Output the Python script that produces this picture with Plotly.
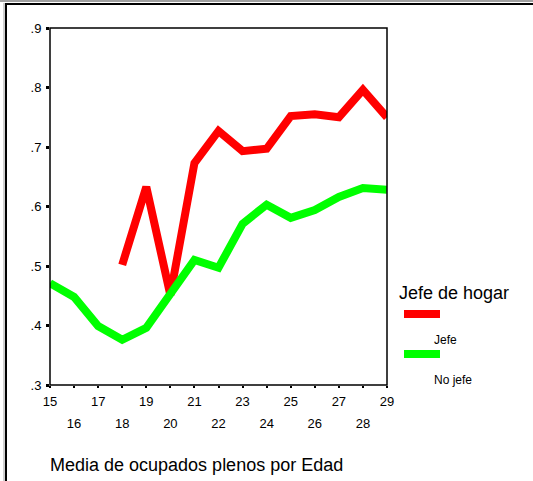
import plotly.graph_objects as go

ages = list(range(15, 30))
jefe_ages = list(range(18, 30))
jefe_vals = [0.502, 0.633, 0.451, 0.673, 0.727, 0.693, 0.697, 0.752, 0.755, 0.750, 0.796, 0.750]
nojefe_vals = [0.471, 0.448, 0.399, 0.376, 0.396, 0.451, 0.510, 0.497, 0.571, 0.603, 0.581, 0.594, 0.616, 0.631, 0.628]
y_ticks = [0.3, 0.4, 0.5, 0.6, 0.7, 0.8, 0.9]
y_labels = [".3", ".4", ".5", ".6", ".7", ".8", ".9"]
odd_ages = [a for a in ages if a % 2 == 1]
even_ages = [a for a in ages if a % 2 == 0]

L, R, T, B = 50, 387, 28, 385
W, H = 533, 481
pw, ph = R - L, B - T

def px(x):
    return (x - L) / pw

def py(y):
    return (B - y) / ph

font = "Liberation Sans, Arial, sans-serif"

fig = go.Figure()
fig.add_trace(go.Scatter(x=ages, y=nojefe_vals, mode="lines", xaxis="x2",
                         line=dict(color="#00ff00", width=8), showlegend=False, hoverinfo="skip"))
fig.add_trace(go.Scatter(x=jefe_ages, y=jefe_vals, mode="lines",
                         line=dict(color="#ff0000", width=8), showlegend=False, hoverinfo="skip"))

def pline(x0, y0, x1, y1, color, width):
    return dict(type="line", xref="paper", yref="paper", x0=px(x0), y0=py(y0), x1=px(x1), y1=py(y1),
                line=dict(color=color, width=width))

shapes = [
    pline(0, 1, 540, 1, "#a0a0a0", 2),
    pline(4, 3, 4, 490, "#a0a0a0", 1),
    pline(5, 4, 540, 4, "black", 2),
    pline(6, 4, 6, 490, "black", 2),
    dict(type="rect", xref="paper", yref="paper", x0=0, x1=1, y0=0, y1=1,
         line=dict(color="black", width=1.5)),
    dict(type="rect", xref="paper", yref="paper", x0=px(404), x1=px(440), y0=py(318), y1=py(310),
         fillcolor="#ff0000", line=dict(width=0)),
    dict(type="rect", xref="paper", yref="paper", x0=px(404), x1=px(440), y0=py(358), y1=py(350),
         fillcolor="#00ff00", line=dict(width=0)),
]

annotations = [
    dict(text="Jefe de hogar", xref="paper", yref="paper", x=px(397), y=py(293),
         xanchor="left", yanchor="middle", showarrow=False, font=dict(family=font, size=18, color="black")),
    dict(text="Jefe", xref="paper", yref="paper", x=px(432), y=py(340),
         xanchor="left", yanchor="middle", showarrow=False, font=dict(family=font, size=12, color="black")),
    dict(text="No jefe", xref="paper", yref="paper", x=px(432), y=py(380),
         xanchor="left", yanchor="middle", showarrow=False, font=dict(family=font, size=12, color="black")),
    dict(text="Media de ocupados plenos por Edad", xref="paper", yref="paper", x=px(48), y=py(465),
         xanchor="left", yanchor="middle", showarrow=False, font=dict(family=font, size=18, color="black")),
]

axis_common = dict(range=[15, 29], showgrid=False, zeroline=False, showline=False,
                   ticks="outside", ticklen=2, tickwidth=2, tickcolor="black",
                   tickfont=dict(family=font, size=13))

fig.update_layout(
    width=W, height=H,
    margin=dict(l=L, r=W - R, t=T, b=H - B, pad=0),
    paper_bgcolor="white", plot_bgcolor="white",
    shapes=shapes, annotations=annotations,
    font=dict(family=font, size=13, color="black"),
    xaxis=dict(tickmode="array", tickvals=odd_ages, ticktext=[str(a) for a in odd_ages],
               ticklabelstandoff=2, **axis_common),
    xaxis2=dict(tickmode="array", tickvals=even_ages, ticktext=[str(a) for a in even_ages],
                overlaying="x", anchor="y", side="bottom", ticklabelstandoff=24, **axis_common),
    yaxis=dict(range=[0.3, 0.9], tickmode="array", tickvals=y_ticks, ticktext=y_labels,
               showgrid=False, zeroline=False, showline=False,
               ticks="outside", ticklen=3, tickwidth=3, tickcolor="black",
               ticklabelstandoff=2, tickfont=dict(family=font, size=13)),
)

fig.write_html("out.html", config={"displayModeBar": False},
               post_script="document.body.style.margin='0';document.body.style.padding='0';")
